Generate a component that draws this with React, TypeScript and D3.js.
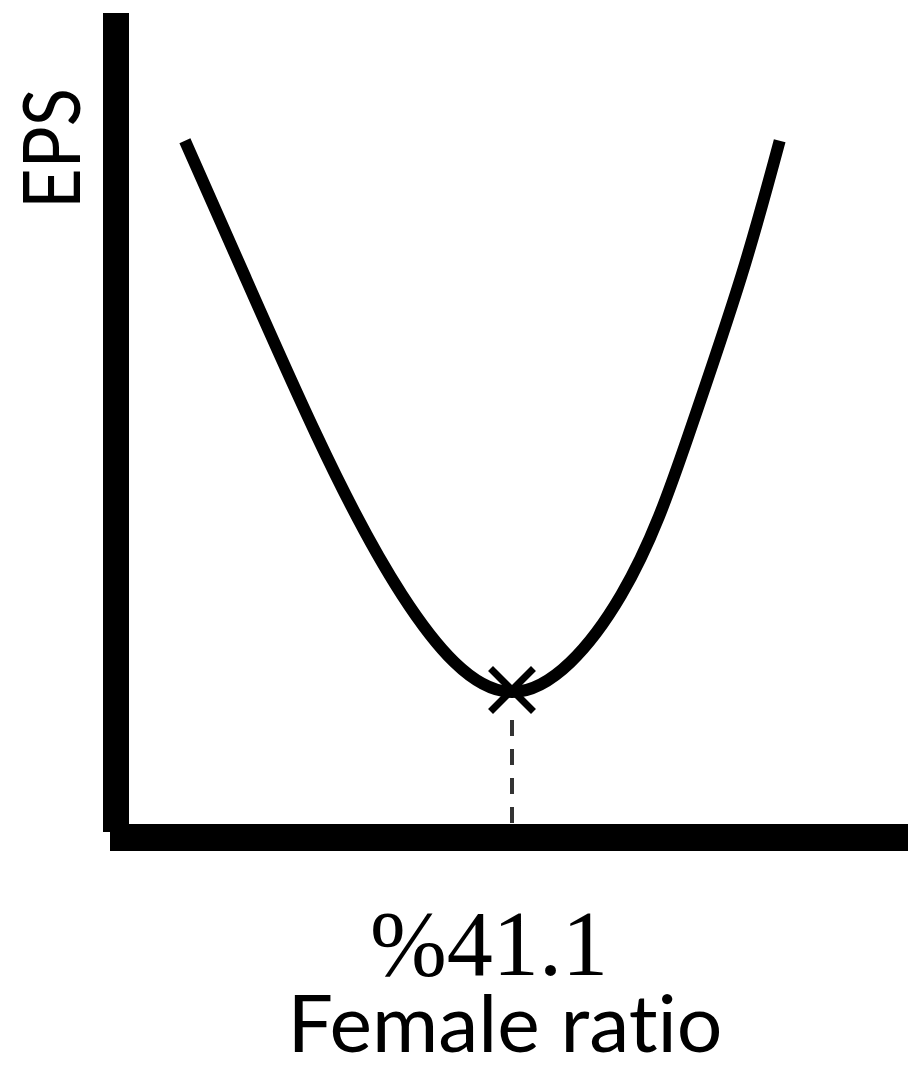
import React from "react";
import * as d3 from "d3";

// Schematic EPS vs female ratio curve (arbitrary units 0–100)
const femaleRatio = [8.7, 16.2, 25.3, 36.1, 50.0, 63.8, 72.3, 79.0, 83.8];
const epsValues = [84.5, 68.2, 48.8, 29.4, 17.6, 29.4, 48.8, 68.2, 84.5];
const optimumRatio = 50.0;
const optimumEps = 17.6;
const optimumLabel = "%41.1";
const xTitle = "Female ratio";
const yTitle = "EPS";

const W = 919;
const H = 1070;

export default function App() {
  const x = d3.scaleLinear().domain([0, 100]).range([116, 908]);
  const y = d3.scaleLinear().domain([0, 100]).range([837, 13]);

  const pts: [number, number][] = femaleRatio.map((v, i) => [v, epsValues[i]]);
  const line = d3
    .line<[number, number]>()
    .x((d) => x(d[0]))
    .y((d) => y(d[1]))
    .curve(d3.curveNatural);

  const mx = x(optimumRatio);
  const my = y(optimumEps) - 2;
  const arm = 19;

  return (
    <svg
      width={W}
      height={H}
      viewBox={`0 0 ${W} ${H}`}
      style={{ position: "absolute", left: 0, top: 0, background: "#fff" }}
    >
      {/* y axis */}
      <line x1={116} x2={116} y1={13} y2={832} stroke="#000" strokeWidth={26} />
      {/* x axis */}
      <line x1={110} x2={908} y1={837.5} y2={837.5} stroke="#000" strokeWidth={27} />

      {/* curve */}
      <path d={line(pts) || ""} fill="none" stroke="#000" strokeWidth={12} strokeLinecap="butt" />

      {/* dashed drop line */}
      <line
        x1={mx}
        x2={mx}
        y1={my + 30}
        y2={824}
        stroke="#333"
        strokeWidth={4}
        strokeDasharray="16,13"
      />

      {/* X marker at optimum */}
      <g stroke="#000" strokeWidth={7} strokeLinecap="square">
        <line x1={mx - arm} y1={my - arm} x2={mx + arm} y2={my + arm} />
        <line x1={mx - arm} y1={my + arm} x2={mx + arm} y2={my - arm} />
      </g>

      {/* labels */}
      <text
        x={489}
        y={975}
        textAnchor="middle"
        fontFamily="'Liberation Serif', 'DejaVu Serif', serif"
        fontSize={94}
        textLength={238}
        lengthAdjust="spacingAndGlyphs"
        fill="#000"
      >
        {optimumLabel}
      </text>
      <text
        x={505}
        y={1052}
        textAnchor="middle"
        fontFamily="Lato, 'Open Sans', sans-serif"
        fontSize={80}
        textLength={435}
        lengthAdjust="spacingAndGlyphs"
        style={{ fontVariantLigatures: "none" }}
        fill="#000"
      >
        {xTitle}
      </text>
      <text
        transform={`translate(80, 148.5) rotate(-90)`}
        textAnchor="middle"
        fontFamily="Lato, 'Open Sans', sans-serif"
        fontSize={80}
        textLength={121}
        lengthAdjust="spacingAndGlyphs"
        fill="#000"
      >
        {yTitle}
      </text>
    </svg>
  );
}
